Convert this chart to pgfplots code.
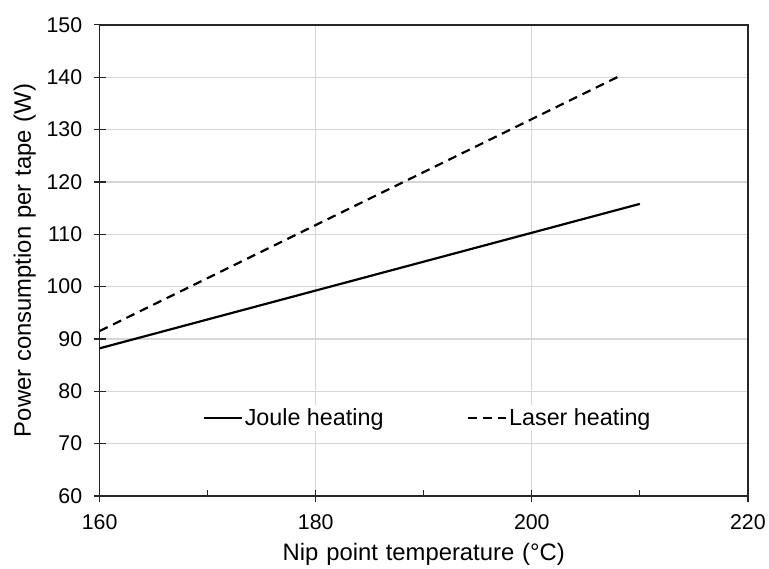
\documentclass[border=0pt]{standalone}
\usepackage{pgfplots}
\pgfplotsset{compat=1.18}
\usepackage{fontspec}
\setmainfont{Liberation Sans}
\newfontfamily\labfont[WordSpace=1.2]{Liberation Sans}
\newcommand\lab{\labfont\fontsize{24}{28}\selectfont}
\begin{document}
\begin{tikzpicture}[font=\fontsize{21.5}{25}\selectfont]
\begin{axis}[
  scale only axis,
  width=651bp, height=473bp,
  xmin=160, xmax=220, ymin=60, ymax=150,
  xtick={160,180,200,220},
  ytick={60,70,...,150},
  minor x tick num=1,
  xtick pos=bottom, ytick pos=left,
  tick align=center,
  major tick length=12bp,
  minor tick length=6bp,
  minor x tick style={yshift=3bp},
  every tick/.style={black!85, line width=1.2bp},
  axis line style={black!85, line width=1.8bp},
  grid=major,
  major grid style={draw=black!16, line width=1.3bp},
  /pgf/number format/assume math mode=true,
  /pgf/number format/1000 sep={},
  yticklabel style={xshift=-8bp},
  xticklabel style={yshift=-9bp},
  xlabel={\lab Nip point temperature (°C)},
  ylabel={\lab Power consumption per tape (W)},
  xlabel style={yshift=-7bp},
  ylabel style={yshift=4bp},
  legend style={at={(0.506,0.165)}, anchor=center, draw=none, fill=white,
    legend columns=2, font=\fontsize{23.5}{27}\selectfont,
    /tikz/every even column/.append style={column sep=82bp}},
  legend image code/.code={\draw[#1] (0bp,0bp) -- (38bp,0bp);},
]
\addplot[black, line width=2.2bp] coordinates {(160,88.2) (210,115.8)};
\addlegendentry{Joule heating}
\addplot[black, line width=2.2bp, dash pattern=on 9bp off 6bp] coordinates {(160,91.5) (208,140.1)};
\addlegendentry{Laser heating}
\end{axis}
\path[use as bounding box] ([xshift=-100bp,yshift=-73bp]current axis.south west) rectangle ([xshift=18bp,yshift=25bp]current axis.north east);
\end{tikzpicture}
\end{document}
